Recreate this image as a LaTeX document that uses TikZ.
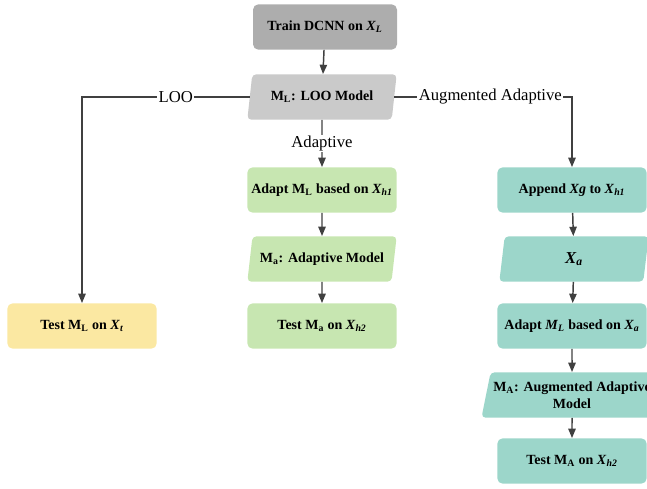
\documentclass[tikz,border=0pt]{standalone}
\usepackage{amsmath}
\usepackage{fontspec}
\usepackage{tikz}
\usetikzlibrary{shapes.geometric,arrows.meta}
\setmainfont{Liberation Serif}
\definecolor{traingray}{HTML}{ADADAD}
\definecolor{loogray}{HTML}{CACACA}
\definecolor{testyellow}{HTML}{FBE8A2}
\definecolor{adagreen}{HTML}{C7E6B1}
\definecolor{augteal}{HTML}{9CD6CA}
\definecolor{linegray}{HTML}{404040}
\newcommand{\sym}[2]{\textit{#1}\textsubscript{\textit{#2}}}

\begin{document}
\begin{tikzpicture}[x=0.75pt,y=-0.75pt,
    box/.style={rectangle,rounded corners=4pt,minimum width=112pt,minimum height=34pt,
        inner sep=2pt,font=\fontsize{10.5}{12.5}\selectfont\bfseries},
    data/.style={trapezium,trapezium left angle=74,trapezium right angle=106,
        trapezium stretches body,rounded corners=3pt,minimum width=112pt,minimum height=34pt,
        inner sep=2pt,align=center,font=\fontsize{10.5}{12.5}\selectfont\bfseries},
    link/.style={draw=linegray,line width=1.1pt,-{Triangle[length=7pt,width=5.5pt]}},
    tag/.style={fill=white,inner sep=1pt,font=\fontsize{12.5}{14}\selectfont}]
    \useasboundingbox (0,0) rectangle (647,489);
    \node[box,fill=traingray,minimum width=108pt] (train) at (325,27) {Train DCNN on \sym{X}{L}};
    \node[data,fill=loogray] (loo) at (322,97) {M\textsubscript{L}: LOO Model};
    \node[box,fill=testyellow] (testl) at (82,326) {Test M\textsubscript{L} on \sym{X}{t}};
    \node[box,fill=adagreen] (adapt) at (322,190) {Adapt M\textsubscript{L} based on \sym{X}{h1}};
    \node[data,fill=adagreen] (ma) at (322,259) {M\textsubscript{a}: Adaptive Model};
    \node[box,fill=adagreen] (testa) at (322,326) {Test M\textsubscript{a} on \sym{X}{h2}};
    \node[box,fill=augteal] (append) at (572,190) {Append \textit{Xg} to \sym{X}{h1}};
    \node[data,fill=augteal,font=\fontsize{12.5}{14}\selectfont\bfseries] (xa) at (574,259) {\sym{X}{a}};
    \node[box,fill=augteal] (adaptA) at (572,326) {Adapt \sym{M}{L} based on \sym{X}{a}};
    \node[data,fill=augteal,minimum width=118pt] (mA) at (572,395) {M\textsubscript{A}: Augmented Adaptive\\Model};
    \node[box,fill=augteal] (testA) at (572,461) {Test M\textsubscript{A} on \sym{X}{h2}};
    \draw[link] (train) -- (loo);
    \draw[link] (loo.west) -| node[tag,pos=0.22] {LOO} (testl);
    \draw[link] (loo) -- node[tag] {Adaptive} (adapt);
    \draw[link] (loo.east) -| node[tag,pos=0.27] {Augmented Adaptive} (append);
    \draw[link] (adapt) -- (ma);
    \draw[link] (ma) -- (testa);
    \draw[link] (append) -- (xa);
    \draw[link] (xa) -- (adaptA);
    \draw[link] (adaptA) -- (mA);
    \draw[link] (mA) -- (testA);
\end{tikzpicture}
\end{document}
